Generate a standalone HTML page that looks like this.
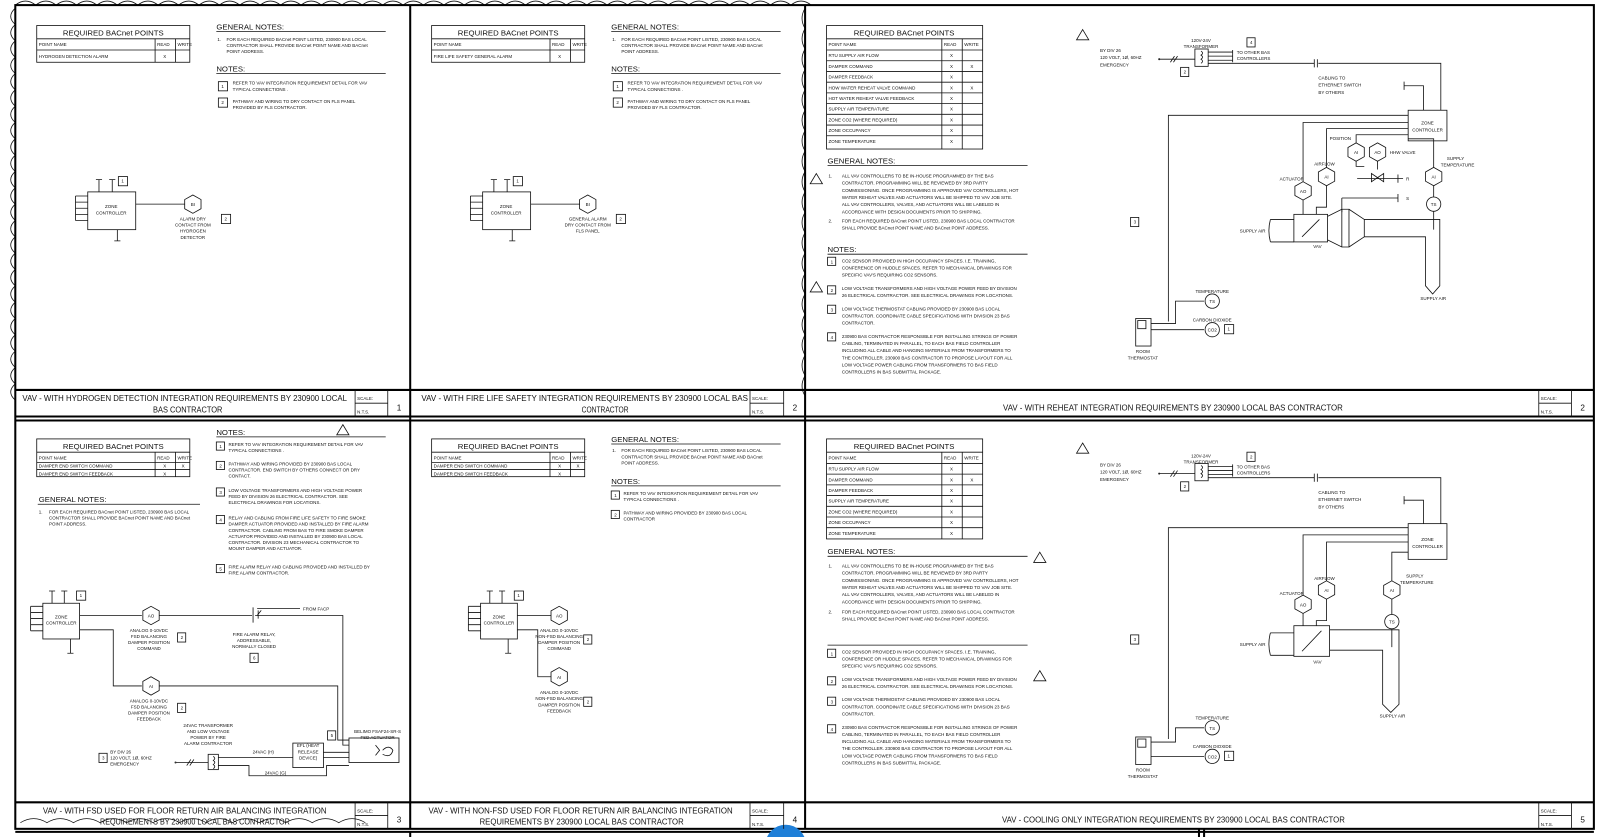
<!DOCTYPE html>
<html><head><meta charset="utf-8"><style>
html,body{margin:0;padding:0;background:#fff;width:1600px;height:837px;overflow:hidden}
svg{display:block}
text{font-family:"Liberation Sans",sans-serif;fill:#111}
.s{fill:none;stroke:#111;stroke-width:.8}
.f{fill:#fff;stroke:#111;stroke-width:.8}
.b{fill:none;stroke:#000;stroke-width:2}
.t{font-size:4.4px}
.m{font-size:5.2px}
.g{font-size:7.6px}
.h{font-size:8px}
.c{text-anchor:middle}
</style></head><body>
<svg width="1600" height="837" viewBox="0 0 1568 820" preserveAspectRatio="none">
<rect width="1568" height="820" fill="#fff"/>
<!-- cloud top -->
<path class="s" d="M15 5 q10 -8 20 0 q10 -8 20 0 q10 -8 20 0 q10 -8 20 0 q10 -8 20 0 q10 -8 20 0 q10 -8 20 0 q10 -8 20 0 q10 -8 20 0 q10 -8 20 0 q10 -8 20 0 q10 -8 20 0 q10 -8 20 0 q10 -8 20 0 q10 -8 20 0 q10 -8 20 0 q10 -8 20 0 q10 -8 20 0 q10 -8 20 0 q10 -8 20 0 q10 -8 20 0 q10 -8 20 0 q10 -8 20 0 q10 -8 20 0 q10 -8 20 0 q10 -8 20 0 q10 -8 20 0 q10 -8 20 0 q10 -8 20 0 q10 -8 20 0 q10 -8 20 0 q10 -8 20 0 q10 -8 20 0 q10 -8 20 0 q10 -8 20 0 q10 -8 20 0 q10 -8 20 0 q10 -8 20 0 q10 -8 20 0"/>
<path class="s" d="M15 8 q-9 8 0 16 q-9 8 0 16 q-9 8 0 16 q-9 8 0 16 q-9 8 0 16 q-9 8 0 16 q-9 8 0 16 q-9 8 0 16 q-9 8 0 16 q-9 8 0 16 q-9 8 0 16 q-9 8 0 16 q-9 8 0 16 q-9 8 0 16 q-9 8 0 16 q-9 8 0 16 q-9 8 0 16 q-9 8 0 16 q-9 8 0 16 q-9 8 0 16 q-9 8 0 16 q-9 8 0 16 q-9 8 0 16 q-9 8 0 16"/>
<path class="s" d="M789 8 q-6 10 0 20 q-6 10 0 20 q-6 10 0 20 q-6 10 0 20 q-6 10 0 20 q-6 10 0 20 q-6 10 0 20 q-6 10 0 20 q-6 10 0 20 q-6 10 0 20 q-6 10 0 20 q-6 10 0 20 q-6 10 0 20 q-6 10 0 20 q-6 10 0 20 q-6 10 0 20 q-6 10 0 20 q-6 10 0 20 q-6 10 0 20"/>
<!-- borders -->
<rect class="b" x="15" y="5" width="1547" height="807"/>
<line class="b" x1="402" y1="5" x2="402" y2="812"/>
<line class="b" x1="789" y1="5" x2="789" y2="812"/>
<line class="b" x1="15" y1="382" x2="1562" y2="382"/>
<line class="b" x1="15" y1="408" x2="1562" y2="408"/>
<line class="b" x1="15" y1="412" x2="1562" y2="412"/>
<line class="b" x1="15" y1="786" x2="1562" y2="786"/>
<line class="b" x1="15" y1="815" x2="1562" y2="815"/>
<line class="b" x1="402" y1="815" x2="402" y2="820"/>
<line class="b" x1="1175" y1="812" x2="1175" y2="820"/>
<line class="b" x1="1180" y1="812" x2="1180" y2="820"/>
<circle cx="770" cy="828" r="20" fill="#1e7fd8"/>

<!-- title blocks -->
<g class="s">
<line x1="348" y1="382" x2="348" y2="408"/><line x1="380" y1="382" x2="380" y2="408"/><line x1="348" y1="395" x2="380" y2="395"/>
<line x1="735" y1="382" x2="735" y2="408"/><line x1="768" y1="382" x2="768" y2="408"/><line x1="735" y1="395" x2="768" y2="395"/>
<line x1="1508" y1="382" x2="1508" y2="408"/><line x1="1540" y1="382" x2="1540" y2="408"/><line x1="1508" y1="395" x2="1540" y2="395"/>
<line x1="348" y1="786" x2="348" y2="812"/><line x1="380" y1="786" x2="380" y2="812"/><line x1="348" y1="799" x2="380" y2="799"/>
<line x1="735" y1="786" x2="735" y2="812"/><line x1="768" y1="786" x2="768" y2="812"/><line x1="735" y1="799" x2="768" y2="799"/>
<line x1="1508" y1="786" x2="1508" y2="812"/><line x1="1540" y1="786" x2="1540" y2="812"/><line x1="1508" y1="799" x2="1540" y2="799"/>
</g>
<g class="t">
<text x="350" y="392">SCALE:</text><text x="350" y="405">N.T.S.</text>
<text x="737" y="392">SCALE:</text><text x="737" y="405">N.T.S.</text>
<text x="1510" y="392">SCALE:</text><text x="1510" y="405">N.T.S.</text>
<text x="350" y="796">SCALE:</text><text x="350" y="809">N.T.S.</text>
<text x="737" y="796">SCALE:</text><text x="737" y="809">N.T.S.</text>
<text x="1510" y="796">SCALE:</text><text x="1510" y="809">N.T.S.</text>
</g>
<g class="h">
<text x="22" y="393" textLength="318" lengthAdjust="spacingAndGlyphs">VAV - WITH HYDROGEN DETECTION INTEGRATION REQUIREMENTS BY 230900 LOCAL</text>
<text x="150" y="404" textLength="68" lengthAdjust="spacingAndGlyphs">BAS CONTRACTOR</text>
<text x="413" y="393" textLength="320" lengthAdjust="spacingAndGlyphs">VAV - WITH FIRE LIFE SAFETY INTEGRATION REQUIREMENTS BY 230900 LOCAL BAS</text>
<text x="570" y="404" textLength="46" lengthAdjust="spacingAndGlyphs">CONTRACTOR</text>
<text x="983" y="402" textLength="333" lengthAdjust="spacingAndGlyphs">VAV - WITH REHEAT INTEGRATION REQUIREMENTS BY 230900 LOCAL BAS CONTRACTOR</text>
<text x="42" y="797" textLength="278" lengthAdjust="spacingAndGlyphs">VAV - WITH FSD USED FOR FLOOR RETURN AIR BALANCING INTEGRATION</text>
<text x="98" y="808" textLength="186" lengthAdjust="spacingAndGlyphs">REQUIREMENTS BY 230900 LOCAL BAS CONTRACTOR</text>
<text x="420" y="797" textLength="298" lengthAdjust="spacingAndGlyphs">VAV - WITH NON-FSD USED FOR FLOOR RETURN AIR BALANCING INTEGRATION</text>
<text x="470" y="808" textLength="200" lengthAdjust="spacingAndGlyphs">REQUIREMENTS BY 230900 LOCAL BAS CONTRACTOR</text>
<text x="982" y="806" textLength="336" lengthAdjust="spacingAndGlyphs">VAV - COOLING ONLY INTEGRATION REQUIREMENTS BY 230900 LOCAL BAS CONTRACTOR</text>
</g>
<g class="h c">
<text x="391" y="402">1</text><text x="779" y="402">2</text><text x="1551" y="402">2</text>
<text x="391" y="806">3</text><text x="779" y="806">4</text><text x="1551" y="806">5</text>
</g>
<path class="s" d="M20 806 q13 -8 26 0 q13 -8 26 0 q13 -8 26 0 q13 -8 26 0 q13 -8 26 0 q13 -8 26 0 q13 -8 26 0 q13 -8 26 0 q13 -8 26 0 q13 -8 26 0 q13 -8 26 0 q13 -8 26 0 q13 -8 26 0"/>

<!-- ===== PANEL 1 ===== -->
<g>
<rect class="s" x="36" y="25" width="150" height="36"/>
<line class="s" x1="36" y1="38" x2="186" y2="38"/><line class="s" x1="36" y1="49" x2="186" y2="49"/>
<line class="s" x1="152" y1="38" x2="152" y2="61"/><line class="s" x1="172" y1="38" x2="172" y2="61"/>
<text class="g c" x="111" y="35">REQUIRED BACnet POINTS</text>
<g class="t"><text x="38" y="45">POINT NAME</text><text x="154" y="45">READ</text><text x="174" y="45">WRITE</text>
<text x="38" y="57">HYDROGEN DETECTION ALARM</text><text x="160" y="57">X</text></g>
<text class="g" x="212" y="29">GENERAL NOTES:</text><line class="s" x1="212" y1="31" x2="378" y2="31"/>
<g class="t"><text x="213" y="40">1.</text><text x="222" y="40">FOR EACH REQUIRED BACnet POINT LISTED, 230900 BAS LOCAL</text>
<text x="222" y="46">CONTRACTOR SHALL PROVIDE BACnet POINT NAME AND BACnet</text><text x="222" y="52">POINT ADDRESS.</text></g>
<text class="g" x="212" y="70">NOTES:</text><line class="s" x1="212" y1="72" x2="378" y2="72"/>
<rect class="s" x="214" y="80" width="9" height="9"/><text class="t" x="217" y="86">1</text>
<g class="t"><text x="228" y="83">REFER TO VAV INTEGRATION REQUIREMENT DETAIL FOR VAV</text><text x="228" y="89">TYPICAL CONNECTIONS .</text></g>
<rect class="s" x="214" y="96" width="9" height="9"/><text class="t" x="217" y="102">2</text>
<g class="t"><text x="228" y="101">PATHWAY AND WIRING TO DRY CONTACT ON FLS PANEL</text><text x="228" y="107">PROVIDED BY FLS CONTRACTOR.</text></g>
<rect class="s" x="86" y="188" width="47" height="37"/>
<text class="t c" x="109" y="204">ZONE</text><text class="t c" x="109" y="210">CONTROLLER</text>
<path class="s" d="M74 192 V216 M74 192 H86 M74 198 H86 M74 204 H86 M74 210 H86 M74 216 H86 M97 188 V176 M94 176 H100 M110 188 V176 M107 176 H113 M115 225 V236 M112 236 H118 M133 200 H181"/>
<rect class="s" x="116" y="173" width="9" height="9"/><text class="t" x="119" y="179">1</text>
<polygon class="f" points="189,191 197,195.5 197,204.5 189,209 181,204.5 181,195.5"/><text class="t c" x="189" y="202">BI</text>
<g class="t c"><text x="189" y="216">ALARM DRY</text><text x="189" y="222">CONTACT FROM</text><text x="189" y="228">HYDROGEN</text><text x="189" y="234">DETECTOR</text></g>
<rect class="s" x="217" y="210" width="9" height="9"/><text class="t" x="220" y="216">2</text>
</g>

<!-- ===== PANEL 2 ===== -->
<g transform="translate(387,0)">
<rect class="s" x="36" y="25" width="150" height="36"/>
<line class="s" x1="36" y1="38" x2="186" y2="38"/><line class="s" x1="36" y1="49" x2="186" y2="49"/>
<line class="s" x1="152" y1="38" x2="152" y2="61"/><line class="s" x1="172" y1="38" x2="172" y2="61"/>
<text class="g c" x="111" y="35">REQUIRED BACnet POINTS</text>
<g class="t"><text x="38" y="45">POINT NAME</text><text x="154" y="45">READ</text><text x="174" y="45">WRITE</text>
<text x="38" y="57">FIRE LIFE SAFETY GENERAL ALARM</text><text x="160" y="57">X</text></g>
<text class="g" x="212" y="29">GENERAL NOTES:</text><line class="s" x1="212" y1="31" x2="378" y2="31"/>
<g class="t"><text x="213" y="40">1.</text><text x="222" y="40">FOR EACH REQUIRED BACnet POINT LISTED, 230900 BAS LOCAL</text>
<text x="222" y="46">CONTRACTOR SHALL PROVIDE BACnet POINT NAME AND BACnet</text><text x="222" y="52">POINT ADDRESS.</text></g>
<text class="g" x="212" y="70">NOTES:</text><line class="s" x1="212" y1="72" x2="378" y2="72"/>
<rect class="s" x="214" y="80" width="9" height="9"/><text class="t" x="217" y="86">1</text>
<g class="t"><text x="228" y="83">REFER TO VAV INTEGRATION REQUIREMENT DETAIL FOR VAV</text><text x="228" y="89">TYPICAL CONNECTIONS .</text></g>
<rect class="s" x="214" y="96" width="9" height="9"/><text class="t" x="217" y="102">2</text>
<g class="t"><text x="228" y="101">PATHWAY AND WIRING TO DRY CONTACT ON FLS PANEL</text><text x="228" y="107">PROVIDED BY FLS CONTRACTOR.</text></g>
<rect class="s" x="86" y="188" width="47" height="37"/>
<text class="t c" x="109" y="204">ZONE</text><text class="t c" x="109" y="210">CONTROLLER</text>
<path class="s" d="M74 192 V216 M74 192 H86 M74 198 H86 M74 204 H86 M74 210 H86 M74 216 H86 M97 188 V176 M94 176 H100 M110 188 V176 M107 176 H113 M115 225 V236 M112 236 H118 M133 200 H181"/>
<rect class="s" x="116" y="173" width="9" height="9"/><text class="t" x="119" y="179">1</text>
<polygon class="f" points="189,191 197,195.5 197,204.5 189,209 181,204.5 181,195.5"/><text class="t c" x="189" y="202">BI</text>
<g class="t c"><text x="189" y="216">GENERAL ALARM</text><text x="189" y="222">DRY CONTACT FROM</text><text x="189" y="228">FLS PANEL</text></g>
<rect class="s" x="217" y="210" width="9" height="9"/><text class="t" x="220" y="216">2</text>
</g>

<!-- ===== PANEL 3 (reheat) ===== -->
<g>
<rect class="s" x="810" y="25" width="153" height="121"/>
<line class="s" x1="810" y1="38" x2="963" y2="38"/>
<g class="s"><line x1="810" y1="49" x2="963" y2="49"/><line x1="810" y1="59.5" x2="963" y2="59.5"/><line x1="810" y1="70" x2="963" y2="70"/><line x1="810" y1="80.5" x2="963" y2="80.5"/><line x1="810" y1="91" x2="963" y2="91"/><line x1="810" y1="101.5" x2="963" y2="101.5"/><line x1="810" y1="112" x2="963" y2="112"/><line x1="810" y1="122.5" x2="963" y2="122.5"/><line x1="810" y1="133" x2="963" y2="133"/>
<line x1="923" y1="38" x2="923" y2="146"/><line x1="943" y1="38" x2="943" y2="146"/></g>
<text class="g c" x="886" y="35">REQUIRED BACnet POINTS</text>
<g class="t"><text x="812" y="45">POINT NAME</text><text x="925" y="45">READ</text><text x="945" y="45">WRITE</text>
<text x="812" y="56">RTU SUPPLY AIR FLOW</text><text x="931" y="56">X</text>
<text x="812" y="66.5">DAMPER COMMAND</text><text x="931" y="66.5">X</text><text x="951" y="66.5">X</text>
<text x="812" y="77">DAMPER FEEDBACK</text><text x="931" y="77">X</text>
<text x="812" y="87.5">HOW WATER REHEAT VALVE COMMAND</text><text x="931" y="87.5">X</text><text x="951" y="87.5">X</text>
<text x="812" y="98">HOT WATER REHEAT VALVE FEEDBACK</text><text x="931" y="98">X</text>
<text x="812" y="108.5">SUPPLY AIR TEMPERATURE</text><text x="931" y="108.5">X</text>
<text x="812" y="119">ZONE CO2 (WHERE REQUIRED)</text><text x="931" y="119">X</text>
<text x="812" y="129.5">ZONE OCCUPANCY</text><text x="931" y="129.5">X</text>
<text x="812" y="140">ZONE TEMPERATURE</text><text x="931" y="140">X</text></g>
<text class="g" x="811" y="160">GENERAL NOTES:</text><line class="s" x1="811" y1="162" x2="1007" y2="162"/>
<g class="t"><text x="812" y="174">1.</text><text x="825" y="174">ALL VAV CONTROLLERS TO BE IN-HOUSE PROGRAMMED BY THE BAS</text>
<text x="825" y="181">CONTRACTOR. PROGRAMMING WILL BE REVIEWED BY 3RD PARTY</text>
<text x="825" y="188">COMMISSIONING. ONCE PROGRAMMING IS APPROVED VAV CONTROLLERS, HOT</text>
<text x="825" y="195">WATER REHEAT VALVES AND ACTUATORS WILL BE SHIPPED TO VAV JOB SITE.</text>
<text x="825" y="202">ALL VAV CONTROLLERS, VALVES, AND ACTUATORS WILL BE LABELED IN</text>
<text x="825" y="209">ACCORDANCE WITH DESIGN DOCUMENTS PRIOR TO SHIPPING.</text>
<text x="812" y="218">2.</text><text x="825" y="218">FOR EACH REQUIRED BACnet POINT LISTED, 230900 BAS LOCAL CONTRACTOR</text>
<text x="825" y="225">SHALL PROVIDE BACnet POINT NAME AND BACnet POINT ADDRESS.</text></g>
<text class="g" x="811" y="247">NOTES:</text><line class="s" x1="811" y1="249" x2="1007" y2="249"/>
<g class="t">
<rect class="s" x="811" y="252" width="8" height="8"/><text x="814" y="258">1</text>
<text x="825" y="257">CO2 SENSOR PROVIDED IN HIGH OCCUPANCY SPACES. I.E. TRAINING,</text><text x="825" y="264">CONFERENCE OR HUDDLE SPACES. REFER TO MECHANICAL DRAWINGS FOR</text><text x="825" y="271">SPECIFIC VAV'S REQUIRING CO2 SENSORS.</text>
<rect class="s" x="811" y="280" width="8" height="8"/><text x="814" y="286">2</text>
<text x="825" y="284">LOW VOLTAGE TRANSFORMERS AND HIGH VOLTAGE POWER FEED BY DIVISION</text><text x="825" y="291">26 ELECTRICAL CONTRACTOR. SEE ELECTRICAL DRAWINGS FOR LOCATIONS.</text>
<rect class="s" x="811" y="299" width="8" height="8"/><text x="814" y="305">3</text>
<text x="825" y="304">LOW VOLTAGE THERMOSTAT CABLING PROVIDED BY 230900 BAS LOCAL</text><text x="825" y="311">CONTRACTOR. COORDINATE CABLE SPECIFICATIONS WITH DIVISION 23 BAS</text><text x="825" y="318">CONTRACTOR.</text>
<rect class="s" x="811" y="326" width="8" height="8"/><text x="814" y="332">4</text>
<text x="825" y="331">230900 BAS CONTRACTOR RESPONSIBLE FOR INSTALLING STRINGS OF POWER</text><text x="825" y="338">CABLING, TERMINATED IN PARALLEL, TO EACH BAS FIELD CONTROLLER</text><text x="825" y="345">INCLUDING ALL CABLE AND HANGING MATERIALS FROM TRANSFORMERS TO</text><text x="825" y="352">THE CONTROLLER. 230900 BAS CONTRACTOR TO PROPOSE LAYOUT FOR ALL</text><text x="825" y="359">LOW VOLTAGE POWER CABLING FROM TRANSFORMERS TO BAS FIELD</text><text x="825" y="366">CONTROLLERS IN BAS SUBMITTAL PACKAGE.</text>
</g>
<polygon class="s" points="800,170 806,180 794,180"/><polygon class="s" points="800,276 806,286 794,286"/>
<polygon class="s" points="1061,29 1067,39 1055,39"/>
<g class="t"><text x="1078" y="51">BY DIV 26</text><text x="1078" y="58">120 VOLT, 1Ø, 60HZ</text><text x="1078" y="65">EMERGENCY</text>
<text class="c" x="1177" y="41">120V-24V</text><text class="c" x="1177" y="47">TRANSFORMER</text>
<text x="1212" y="53">TO OTHER BAS</text><text x="1212" y="59">CONTROLLERS</text>
<text x="1292" y="78">CABLING TO</text><text x="1292" y="85">ETHERNET SWITCH</text><text x="1292" y="92">BY OTHERS</text></g>
<circle cx="1136" cy="58" r="1" fill="#333"/>
<path class="s" d="M1136 58 H1171 M1147 61 L1151 55 M1150 61 L1154 55 M1184 51 H1208 M1184 55 H1208 M1184 59 H1208 M1208 49 V61 M1184 62 H1288 M1292 62 H1412 V108 M1288 58 V66 M1291 58 V66 M1376 80 V88 M1376 84 H1395 V108"/>
<rect class="s" x="1171" y="48" width="13" height="17"/><path class="s" d="M1177 50 q3 2 0 4 q3 2 0 4 q3 2 0 4"/>
<rect class="s" x="1157" y="66" width="8" height="9"/><text class="t" x="1160" y="72">2</text>
<rect class="s" x="1222" y="37" width="8" height="9"/><text class="t" x="1225" y="43">4</text>
<rect class="s" x="1380" y="108" width="38" height="30"/><text class="t c" x="1399" y="122">ZONE</text><text class="t c" x="1399" y="129">CONTROLLER</text>
<path class="s" d="M1380 113 H1145 V315 M1380 120 H1277 V179 M1380 126 H1300 V165 M1380 132 H1329 V141 M1380 136 H1405 V165 M1405 181 V193 M1405 207 V225 M1277 195 V210 M1300 181 V203 H1290 V210 M1329 156 V163 H1337 M1350 156 V166 M1330 175 H1375 M1370 171 V179 M1315 194 H1370 M1370 190 V198 M1315 194 V208"/>
<path class="s" d="M1344 170 L1356 178 L1356 170 L1344 178 Z"/>
<g transform="translate(1277,187)"><polygon class="f" points="0,-9 8,-4.5 8,4.5 0,9 -8,4.5 -8,-4.5"/><text class="t c" y="2">AO</text></g>
<g transform="translate(1300,173)"><polygon class="f" points="0,-9 8,-4.5 8,4.5 0,9 -8,4.5 -8,-4.5"/><text class="t c" y="2">AI</text></g>
<g transform="translate(1329,149)"><polygon class="f" points="0,-9 8,-4.5 8,4.5 0,9 -8,4.5 -8,-4.5"/><text class="t c" y="2">AI</text></g>
<g transform="translate(1350,149)"><polygon class="f" points="0,-9 8,-4.5 8,4.5 0,9 -8,4.5 -8,-4.5"/><text class="t c" y="2">AO</text></g>
<g transform="translate(1405,173)"><polygon class="f" points="0,-9 8,-4.5 8,4.5 0,9 -8,4.5 -8,-4.5"/><text class="t c" y="2">AI</text></g>
<circle class="f" cx="1405" cy="200" r="7"/><text class="t c" x="1405" y="202">TS</text>
<g class="t"><text x="1254" y="177">ACTUATOR</text><text x="1288" y="162">AIRFLOW</text><text x="1303" y="137">POSITION</text><text x="1362" y="151">HHW VALVE</text>
<text x="1418" y="157">SUPPLY</text><text x="1412" y="163">TEMPERATURE</text><text x="1378" y="177">R</text><text x="1378" y="196">S</text>
<text x="1215" y="228">SUPPLY AIR</text><text x="1287" y="243">VAV</text><text x="1392" y="294">SUPPLY AIR</text></g>
<path class="s" d="M1245 215 H1268 M1245 237 H1268 M1245 215 q-3 11 0 22"/>
<rect class="s" x="1268" y="210" width="33" height="27"/><line class="s" x1="1276" y1="232" x2="1293" y2="215"/>
<path class="s" d="M1301 212 L1315 205 L1322 205 L1322 242 L1315 242 L1301 235 M1322 205 L1337 215 M1322 242 L1337 232 M1315 205 V242 M1337 215 H1411 V280 L1404 288 L1397 280 V232 H1337 Z"/>
<rect class="s" x="1113" y="312" width="15" height="27"/><rect class="s" x="1115" y="314" width="8" height="8"/>
<g class="t c"><text x="1120" y="346">ROOM</text><text x="1120" y="352">THERMOSTAT</text><text x="1188" y="287">TEMPERATURE</text><text x="1188" y="315">CARBON DIOXIDE</text></g>
<path class="s" d="M1128 317 H1152 V295 H1180 M1128 323 H1180"/>
<circle class="f" cx="1188" cy="295" r="7"/><text class="t c" x="1188" y="297">TS</text>
<circle class="f" cx="1188" cy="323" r="7"/><text class="t c" x="1188" y="325">CO2</text>
<rect class="s" x="1200" y="318" width="9" height="9"/><text class="t" x="1203" y="324">1</text>
<rect class="s" x="1108" y="213" width="8" height="9"/><text class="t" x="1111" y="219">3</text>
</g>

<!-- ===== PANEL 3 row2 (FSD) ===== -->
<g>
<rect class="s" x="36" y="430" width="150" height="37"/>
<line class="s" x1="36" y1="443" x2="186" y2="443"/><line class="s" x1="36" y1="453" x2="186" y2="453"/><line class="s" x1="36" y1="460" x2="186" y2="460"/>
<line class="s" x1="152" y1="443" x2="152" y2="467"/><line class="s" x1="172" y1="443" x2="172" y2="467"/>
<text class="g c" x="111" y="440">REQUIRED BACnet POINTS</text>
<g class="t"><text x="38" y="450">POINT NAME</text><text x="154" y="450">READ</text><text x="174" y="450">WRITE</text>
<text x="38" y="458">DAMPER END SWITCH COMMAND</text><text x="160" y="458">X</text><text x="178" y="458">X</text>
<text x="38" y="466">DAMPER END SWITCH FEEDBACK</text><text x="160" y="466">X</text></g>
<text class="g" x="38" y="492">GENERAL NOTES:</text><line class="s" x1="37" y1="494" x2="196" y2="494"/>
<g class="t"><text x="38" y="503">1.</text><text x="48" y="503">FOR EACH REQUIRED BACnet POINT LISTED, 230900 BAS LOCAL</text><text x="48" y="509">CONTRACTOR SHALL PROVIDE BACnet POINT NAME AND BACnet</text><text x="48" y="515">POINT ADDRESS.</text></g>
<text class="g" x="212" y="426">NOTES:</text><line class="s" x1="212" y1="428" x2="378" y2="428"/><polygon class="s" points="336,416 342,426 330,426"/>
<g class="t">
<rect class="s" x="212" y="433" width="8" height="8"/><text x="215" y="439">1</text><text x="224" y="437">REFER TO VAV INTEGRATION REQUIREMENT DETAIL FOR VAV</text><text x="224" y="443">TYPICAL CONNECTIONS .</text>
<rect class="s" x="212" y="452" width="8" height="8"/><text x="215" y="458">2</text><text x="224" y="456">PATHWAY AND WIRING PROVIDED BY 230900 BAS LOCAL</text><text x="224" y="462">CONTRACTOR. END SWITCH BY OTHERS CONNECT OR DRY</text><text x="224" y="468">CONTACT.</text>
<rect class="s" x="212" y="478" width="8" height="8"/><text x="215" y="484">3</text><text x="224" y="482">LOW VOLTAGE TRANSFORMERS AND HIGH VOLTAGE POWER</text><text x="224" y="488">FEED BY DIVISION 26 ELECTRICAL CONTRACTOR. SEE</text><text x="224" y="494">ELECTRICAL DRAWINGS FOR LOCATIONS.</text>
<rect class="s" x="212" y="505" width="8" height="8"/><text x="215" y="511">4</text><text x="224" y="509">RELAY AND CABLING FROM FIRE LIFE SAFETY TO FIRE SMOKE</text><text x="224" y="515">DAMPER ACTUATOR PROVIDED AND INSTALLED BY FIRE ALARM</text><text x="224" y="521">CONTRACTOR. CABLING FROM BAS TO FIRE SMOKE DAMPER</text><text x="224" y="527">ACTUATOR PROVIDED AND INSTALLED BY 230900 BAS LOCAL</text><text x="224" y="533">CONTRACTOR. DIVISION 23 MECHANICAL CONTRACTOR TO</text><text x="224" y="539">MOUNT DAMPER AND ACTUATOR.</text>
<rect class="s" x="212" y="553" width="8" height="8"/><text x="215" y="559">5</text><text x="224" y="557">FIRE ALARM RELAY AND CABLING PROVIDED AND INSTALLED BY</text><text x="224" y="563">FIRE ALARM CONTRACTOR.</text>
</g>
<rect class="s" x="42" y="591" width="36" height="35"/><text class="t c" x="60" y="606">ZONE</text><text class="t c" x="60" y="612">CONTROLLER</text>
<path class="s" d="M30 594 V618 M30 594 H42 M30 600 H42 M30 606 H42 M30 612 H42 M30 618 H42 M51 591 V579 M48 579 H54 M63 591 V579 M60 579 H66 M69 626 V640 M66 640 H72 M78 603 H139 M156 603 H247 M250 603 H336 V730 H342 M78 617 H111 V672 H139 M156 672 H331 V725 H342 M248 595 V610 M253 598 V606 M252 603 L256 598 M252 596 H294"/>
<rect class="s" x="75" y="579" width="9" height="9"/><text class="t" x="78" y="585">1</text>
<text class="t" x="297" y="598">FROM FACP</text>
<g transform="translate(148,603)"><polygon class="f" points="0,-9 8,-4.5 8,4.5 0,9 -8,4.5 -8,-4.5"/><text class="t c" y="2">AO</text></g>
<g transform="translate(148,672)"><polygon class="f" points="0,-9 8,-4.5 8,4.5 0,9 -8,4.5 -8,-4.5"/><text class="t c" y="2">AI</text></g>
<g class="t c"><text x="146" y="619">ANALOG 0-10VDC</text><text x="146" y="625">FSD BALANCING</text><text x="146" y="631">DAMPER POSITION</text><text x="146" y="637">COMMAND</text>
<text x="146" y="688">ANALOG 0-10VDC</text><text x="146" y="694">FSD BALANCING</text><text x="146" y="700">DAMPER POSITION</text><text x="146" y="706">FEEDBACK</text>
<text x="249" y="623">FIRE ALARM RELAY,</text><text x="249" y="629">ADDRESSABLE,</text><text x="249" y="635">NORMALLY CLOSED</text>
<text x="204" y="712">24VAC TRANSFORMER</text><text x="204" y="718">AND LOW VOLTAGE</text><text x="204" y="724">POWER BY FIRE</text><text x="204" y="730">ALARM CONTRACTOR</text>
<text x="370" y="718">BELIMO FSAF24-SR-S</text><text x="370" y="724">FSD ACTUATOR</text>
<text x="302" y="732">EFL (HEAT</text><text x="302" y="738">RELEASE</text><text x="302" y="744">DEVICE)</text>
<text x="258" y="738">24VAC (H)</text><text x="270" y="759">24VAC (G)</text></g>
<rect class="s" x="174" y="620" width="8" height="9"/><text class="t" x="177" y="626">2</text>
<rect class="s" x="174" y="689" width="8" height="9"/><text class="t" x="177" y="695">2</text>
<rect class="s" x="245" y="640" width="8" height="9"/><text class="t" x="248" y="646">6</text>
<rect class="s" x="321" y="716" width="8" height="9"/><text class="t" x="324" y="722">5</text>
<rect class="s" x="287" y="728" width="30" height="24"/>
<rect class="s" x="342" y="723" width="49" height="24"/>
<path class="s" d="M375 735 q6 -6 10 0 q-2 8 -10 4 M368 730 l4 5 -4 5"/>
<rect class="s" x="204" y="739" width="10" height="15"/><path class="s" d="M209 741 q3 2 0 4 q3 2 0 4 q3 2 0 4"/>
<path class="s" d="M214 742 H287 M317 742 H342 M317 737 H342 M214 750 H244 V760 H320 V750 H342 M172 747 H204 M183 750 L187 744 M186 750 L190 744"/>
<circle cx="172" cy="747" r="1" fill="#333"/>
<g class="t"><text x="108" y="738">BY DIV 26</text><text x="108" y="744">120 VOLT, 1Ø, 60HZ</text><text x="108" y="750">EMERGENCY</text></g>
<rect class="s" x="97" y="738" width="8" height="9"/><text class="t" x="100" y="744">3</text>
</g>

<!-- ===== PANEL 4 (NON-FSD) ===== -->
<g transform="translate(387,0)">
<rect class="s" x="36" y="430" width="150" height="37"/>
<line class="s" x1="36" y1="443" x2="186" y2="443"/><line class="s" x1="36" y1="453" x2="186" y2="453"/><line class="s" x1="36" y1="460" x2="186" y2="460"/>
<line class="s" x1="152" y1="443" x2="152" y2="467"/><line class="s" x1="172" y1="443" x2="172" y2="467"/>
<text class="g c" x="111" y="440">REQUIRED BACnet POINTS</text>
<g class="t"><text x="38" y="450">POINT NAME</text><text x="154" y="450">READ</text><text x="174" y="450">WRITE</text>
<text x="38" y="458">DAMPER END SWITCH COMMAND</text><text x="160" y="458">X</text><text x="178" y="458">X</text>
<text x="38" y="466">DAMPER END SWITCH FEEDBACK</text><text x="160" y="466">X</text></g>
<text class="g" x="212" y="433">GENERAL NOTES:</text><line class="s" x1="212" y1="435" x2="378" y2="435"/>
<g class="t"><text x="213" y="443">1.</text><text x="222" y="443">FOR EACH REQUIRED BACnet POINT LISTED, 230900 BAS LOCAL</text><text x="222" y="449">CONTRACTOR SHALL PROVIDE BACnet POINT NAME AND BACnet</text><text x="222" y="455">POINT ADDRESS.</text></g>
<text class="g" x="212" y="474">NOTES:</text><line class="s" x1="212" y1="476" x2="378" y2="476"/>
<g class="t"><rect class="s" x="212" y="481" width="8" height="8"/><text x="215" y="487">1</text><text x="224" y="485">REFER TO VAV INTEGRATION REQUIREMENT DETAIL FOR VAV</text><text x="224" y="491">TYPICAL CONNECTIONS .</text>
<rect class="s" x="212" y="500" width="8" height="8"/><text x="215" y="506">2</text><text x="224" y="504">PATHWAY AND WIRING PROVIDED BY 230900 BAS LOCAL</text><text x="224" y="510">CONTRACTOR</text></g>
<rect class="s" x="84" y="591" width="36" height="35"/><text class="t c" x="102" y="606">ZONE</text><text class="t c" x="102" y="612">CONTROLLER</text>
<path class="s" d="M72 594 V618 M72 594 H84 M72 600 H84 M72 606 H84 M72 612 H84 M72 618 H84 M93 591 V579 M90 579 H96 M105 591 V579 M102 579 H108 M111 626 V640 M108 640 H114 M120 603 H153 M120 617 H140 V663 H153"/>
<rect class="s" x="117" y="579" width="9" height="9"/><text class="t" x="120" y="585">1</text>
<g transform="translate(161,603)"><polygon class="f" points="0,-9 8,-4.5 8,4.5 0,9 -8,4.5 -8,-4.5"/><text class="t c" y="2">AO</text></g>
<g transform="translate(161,663)"><polygon class="f" points="0,-9 8,-4.5 8,4.5 0,9 -8,4.5 -8,-4.5"/><text class="t c" y="2">AI</text></g>
<g class="t c"><text x="161" y="619">ANALOG 0-10VDC</text><text x="161" y="625">NON-FSD BALANCING</text><text x="161" y="631">DAMPER POSITION</text><text x="161" y="637">COMMAND</text>
<text x="161" y="680">ANALOG 0-10VDC</text><text x="161" y="686">NON-FSD BALANCING</text><text x="161" y="692">DAMPER POSITION</text><text x="161" y="698">FEEDBACK</text></g>
<rect class="s" x="185" y="622" width="8" height="9"/><text class="t" x="188" y="628">2</text>
<rect class="s" x="185" y="683" width="8" height="9"/><text class="t" x="188" y="689">2</text>
</g>

<!-- ===== PANEL 5 (cooling) ===== -->
<g>
<rect class="s" x="810" y="430" width="153" height="98"/>
<line class="s" x1="810" y1="443" x2="963" y2="443"/>
<g class="s"><line x1="810" y1="454" x2="963" y2="454"/><line x1="810" y1="464.5" x2="963" y2="464.5"/><line x1="810" y1="475" x2="963" y2="475"/><line x1="810" y1="485.5" x2="963" y2="485.5"/><line x1="810" y1="496" x2="963" y2="496"/><line x1="810" y1="506.5" x2="963" y2="506.5"/><line x1="810" y1="517" x2="963" y2="517"/>
<line x1="923" y1="443" x2="923" y2="528"/><line x1="943" y1="443" x2="943" y2="528"/></g>
<text class="g c" x="886" y="440">REQUIRED BACnet POINTS</text>
<g class="t"><text x="812" y="450">POINT NAME</text><text x="925" y="450">READ</text><text x="945" y="450">WRITE</text>
<text x="812" y="461">RTU SUPPLY AIR FLOW</text><text x="931" y="461">X</text>
<text x="812" y="471.5">DAMPER COMMAND</text><text x="931" y="471.5">X</text><text x="951" y="471.5">X</text>
<text x="812" y="482">DAMPER FEEDBACK</text><text x="931" y="482">X</text>
<text x="812" y="492.5">SUPPLY AIR TEMPERATURE</text><text x="931" y="492.5">X</text>
<text x="812" y="503">ZONE CO2 (WHERE REQUIRED)</text><text x="931" y="503">X</text>
<text x="812" y="513.5">ZONE OCCUPANCY</text><text x="931" y="513.5">X</text>
<text x="812" y="524">ZONE TEMPERATURE</text><text x="931" y="524">X</text></g>
<text class="g" x="811" y="543">GENERAL NOTES:</text><line class="s" x1="811" y1="545" x2="1007" y2="545"/>
<polygon class="s" points="1019,541 1025,551 1013,551"/>
<g class="t"><text x="812" y="556">1.</text><text x="825" y="556">ALL VAV CONTROLLERS TO BE IN-HOUSE PROGRAMMED BY THE BAS</text>
<text x="825" y="563">CONTRACTOR. PROGRAMMING WILL BE REVIEWED BY 3RD PARTY</text>
<text x="825" y="570">COMMISSIONING. ONCE PROGRAMMING IS APPROVED VAV CONTROLLERS, HOT</text>
<text x="825" y="577">WATER REHEAT VALVES AND ACTUATORS WILL BE SHIPPED TO VAV JOB SITE.</text>
<text x="825" y="584">ALL VAV CONTROLLERS, VALVES, AND ACTUATORS WILL BE LABELED IN</text>
<text x="825" y="591">ACCORDANCE WITH DESIGN DOCUMENTS PRIOR TO SHIPPING.</text>
<text x="812" y="601">2.</text><text x="825" y="601">FOR EACH REQUIRED BACnet POINT LISTED, 230900 BAS LOCAL CONTRACTOR</text>
<text x="825" y="608">SHALL PROVIDE BACnet POINT NAME AND BACnet POINT ADDRESS.</text></g>
<line class="s" x1="811" y1="632" x2="1007" y2="632"/>
<polygon class="s" points="1019,657 1025,667 1013,667"/>
<g class="t">
<rect class="s" x="811" y="636" width="8" height="8"/><text x="814" y="642">1</text>
<text x="825" y="640">CO2 SENSOR PROVIDED IN HIGH OCCUPANCY SPACES. I.E. TRAINING,</text><text x="825" y="647">CONFERENCE OR HUDDLE SPACES. REFER TO MECHANICAL DRAWINGS FOR</text><text x="825" y="654">SPECIFIC VAV'S REQUIRING CO2 SENSORS.</text>
<rect class="s" x="811" y="663" width="8" height="8"/><text x="814" y="669">2</text>
<text x="825" y="667">LOW VOLTAGE TRANSFORMERS AND HIGH VOLTAGE POWER FEED BY DIVISION</text><text x="825" y="674">26 ELECTRICAL CONTRACTOR. SEE ELECTRICAL DRAWINGS FOR LOCATIONS.</text>
<rect class="s" x="811" y="683" width="8" height="8"/><text x="814" y="689">3</text>
<text x="825" y="687">LOW VOLTAGE THERMOSTAT CABLING PROVIDED BY 230900 BAS LOCAL</text><text x="825" y="694">CONTRACTOR. COORDINATE CABLE SPECIFICATIONS WITH DIVISION 23 BAS</text><text x="825" y="701">CONTRACTOR.</text>
<rect class="s" x="811" y="710" width="8" height="8"/><text x="814" y="716">4</text>
<text x="825" y="714">230900 BAS CONTRACTOR RESPONSIBLE FOR INSTALLING STRINGS OF POWER</text><text x="825" y="721">CABLING, TERMINATED IN PARALLEL, TO EACH BAS FIELD CONTROLLER</text><text x="825" y="728">INCLUDING ALL CABLE AND HANGING MATERIALS FROM TRANSFORMERS TO</text><text x="825" y="735">THE CONTROLLER. 230900 BAS CONTRACTOR TO PROPOSE LAYOUT FOR ALL</text><text x="825" y="742">LOW VOLTAGE POWER CABLING FROM TRANSFORMERS TO BAS FIELD</text><text x="825" y="749">CONTROLLERS IN BAS SUBMITTAL PACKAGE.</text>
</g>
<polygon class="s" points="1061,434 1067,444 1055,444"/>
<g class="t"><text x="1078" y="457">BY DIV 26</text><text x="1078" y="464">120 VOLT, 1Ø, 60HZ</text><text x="1078" y="471">EMERGENCY</text>
<text class="c" x="1177" y="448">120V-24V</text><text class="c" x="1177" y="454">TRANSFORMER</text>
<text x="1212" y="459">TO OTHER BAS</text><text x="1212" y="465">CONTROLLERS</text>
<text x="1292" y="484">CABLING TO</text><text x="1292" y="491">ETHERNET SWITCH</text><text x="1292" y="498">BY OTHERS</text></g>
<circle cx="1136" cy="464" r="1" fill="#333"/>
<path class="s" d="M1136 464 H1171 M1147 467 L1151 461 M1150 467 L1154 461 M1184 457 H1208 M1184 461 H1208 M1184 465 H1208 M1208 455 V467 M1184 468 H1288 M1292 468 H1412 V513 M1288 464 V472 M1291 464 V472 M1376 486 V494 M1376 490 H1395 V513"/>
<rect class="s" x="1171" y="454" width="13" height="17"/><path class="s" d="M1177 456 q3 2 0 4 q3 2 0 4 q3 2 0 4"/>
<rect class="s" x="1157" y="472" width="8" height="9"/><text class="t" x="1160" y="478">2</text>
<rect class="s" x="1222" y="443" width="8" height="9"/><text class="t" x="1225" y="449">2</text>
<rect class="s" x="1380" y="513" width="38" height="35"/><text class="t c" x="1399" y="530">ZONE</text><text class="t c" x="1399" y="537">CONTROLLER</text>
<path class="s" d="M1380 517 H1145 V724 M1380 524 H1277 V584 M1380 531 H1300 V570 M1380 541 H1364 V570 M1364 586 V602 M1364 616 V634 M1277 600 V613 M1300 586 V608 H1290 V613"/>
<g transform="translate(1277,592)"><polygon class="f" points="0,-9 8,-4.5 8,4.5 0,9 -8,4.5 -8,-4.5"/><text class="t c" y="2">AO</text></g>
<g transform="translate(1300,578)"><polygon class="f" points="0,-9 8,-4.5 8,4.5 0,9 -8,4.5 -8,-4.5"/><text class="t c" y="2">AI</text></g>
<g transform="translate(1364,578)"><polygon class="f" points="0,-9 8,-4.5 8,4.5 0,9 -8,4.5 -8,-4.5"/><text class="t c" y="2">AI</text></g>
<circle class="f" cx="1364" cy="609" r="7"/><text class="t c" x="1364" y="611">TS</text>
<g class="t"><text x="1254" y="583">ACTUATOR</text><text x="1288" y="568">AIRFLOW</text>
<text x="1378" y="566">SUPPLY</text><text x="1372" y="572">TEMPERATURE</text>
<text x="1215" y="633">SUPPLY AIR</text><text x="1287" y="650">VAV</text><text x="1352" y="703">SUPPLY AIR</text></g>
<path class="s" d="M1245 620 H1268 M1245 642 H1268 M1245 620 q-3 11 0 22"/>
<rect class="s" x="1268" y="613" width="35" height="30"/><line class="s" x1="1276" y1="638" x2="1295" y2="618"/>
<path class="s" d="M1303 617 H1371 V690 L1363 698 L1355 690 V637 H1303"/>
<rect class="s" x="1113" y="722" width="15" height="27"/><rect class="s" x="1115" y="724" width="8" height="8"/>
<g class="t c"><text x="1120" y="756">ROOM</text><text x="1120" y="762">THERMOSTAT</text><text x="1188" y="705">TEMPERATURE</text><text x="1188" y="733">CARBON DIOXIDE</text></g>
<path class="s" d="M1128 727 H1152 V713 H1180 M1128 741 H1180"/>
<circle class="f" cx="1188" cy="713" r="7"/><text class="t c" x="1188" y="715">TS</text>
<circle class="f" cx="1188" cy="741" r="7"/><text class="t c" x="1188" y="743">CO2</text>
<rect class="s" x="1200" y="736" width="9" height="9"/><text class="t" x="1203" y="742">1</text>
<rect class="s" x="1108" y="622" width="8" height="9"/><text class="t" x="1111" y="628">3</text>
</g>
</svg>
</body></html>
